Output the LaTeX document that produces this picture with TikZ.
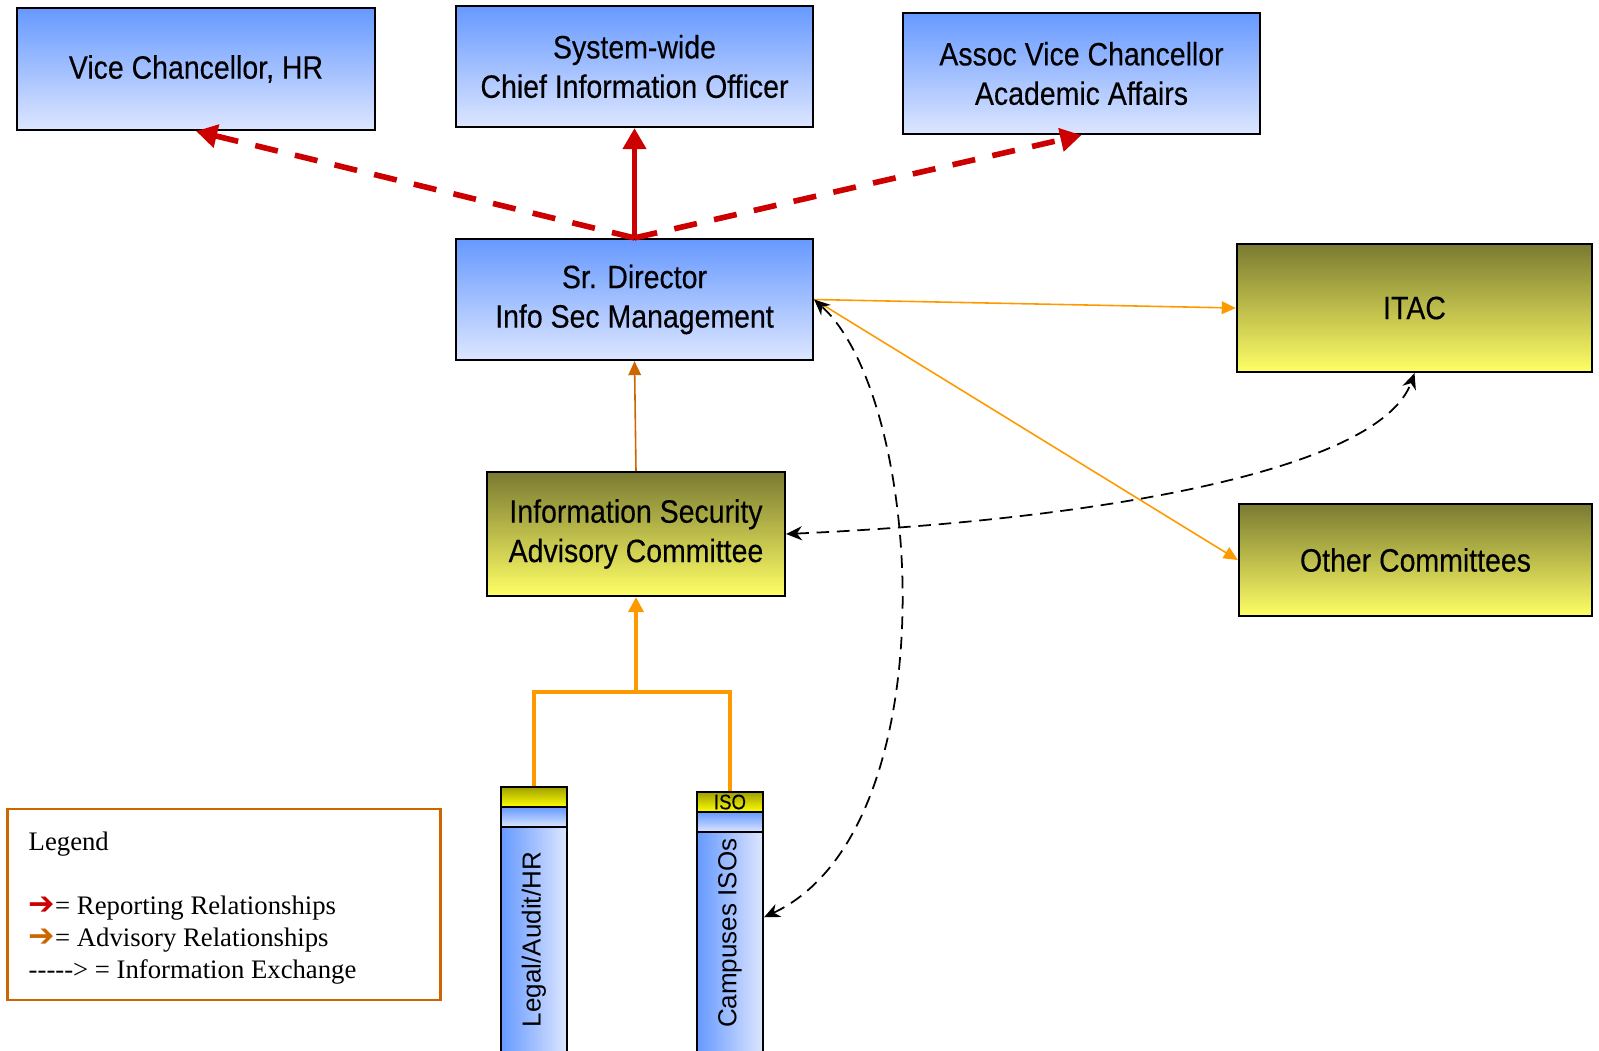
\documentclass[tikz,border=0pt]{standalone}
\usepackage{fontspec}
\usepackage{graphicx}
\setmainfont{Liberation Serif}
\newfontfamily\narrowfont[FakeStretch=0.88, FakeBold=0.3]{Liberation Sans}
\newfontfamily\plainsans{Liberation Sans}
\newfontfamily\symfont{DejaVu Sans}
\usetikzlibrary{arrows.meta}
\definecolor{boxblue}{RGB}{102,153,255}
\definecolor{paleblue}{RGB}{221,230,255}
\definecolor{boxolive}{RGB}{122,122,50}
\definecolor{paleyellow}{RGB}{255,255,102}
\definecolor{colyellow}{RGB}{160,160,0}
\definecolor{repred}{RGB}{204,0,0}
\definecolor{advorange}{RGB}{255,153,0}
\definecolor{advbrown}{RGB}{204,102,0}
\tikzstyle{bluebox}=[draw=black, line width=0.6pt, top color=boxblue, bottom color=paleblue, inner sep=0pt, align=center, font=\narrowfont\fontsize{9.2}{11.2}\selectfont]
\tikzstyle{yellowbox}=[bluebox, top color=boxolive, bottom color=paleyellow]
\tikzstyle{colbody}=[draw=black, line width=0.6pt, left color=boxblue, right color=paleblue, inner sep=0pt, minimum width=0.66cm, font=\plainsans\fontsize{7.4}{8}\selectfont]
\tikzstyle{colband}=[draw=black, line width=0.6pt, top color=boxblue, bottom color=paleblue, inner sep=0pt, minimum width=0.66cm, minimum height=0.2cm]
\tikzstyle{coltop}=[draw=black, line width=0.6pt, top color=colyellow, bottom color=yellow, inner sep=0pt, minimum width=0.66cm, minimum height=0.2cm, font=\narrowfont\fontsize{6}{6}\selectfont]
\tikzstyle{legendbox}=[draw=advbrown, line width=0.8pt, inner sep=0pt]
\tikzstyle{report}=[draw=repred, line width=1.6pt, -{Triangle[length=6pt,width=6.5pt]}]
\tikzstyle{reportdash}=[report, dash pattern=on 6.6pt off 5pt]
\tikzstyle{advise}=[draw=advorange, line width=0.45pt, -{Triangle[length=4pt,width=3.6pt]}]
\tikzstyle{adviselight}=[draw=advbrown, line width=0.45pt, -{Triangle[length=4pt,width=3.6pt]}]
\tikzstyle{advisethick}=[draw=advorange, line width=1.1pt]
\tikzstyle{infox}=[draw=black, line width=0.5pt, dash pattern=on 3.6pt off 2.2pt, {Stealth[length=4.5pt,width=4pt]}-{Stealth[length=4.5pt,width=4pt]}]

\begin{document}
\begin{tikzpicture}[x=0.01cm, y=-0.01cm]
    \useasboundingbox (0,0) rectangle (1599,1050);
    \node[bluebox, minimum width=3.58cm, minimum height=1.22cm] (vchr) at (196,69) {Vice Chancellor, HR};
    \node[bluebox, minimum width=3.57cm, minimum height=1.21cm] (cio) at (634.5,66.5) {System-wide\\Chief Information Officer};
    \node[bluebox, minimum width=3.57cm, minimum height=1.21cm] (avc) at (1081.5,73.5) {Assoc Vice Chancellor\\Academic Affairs};
    \node[bluebox, minimum width=3.57cm, minimum height=1.21cm] (srdir) at (634.5,299.5) {Sr. Director\\Info Sec Management};
    \node[yellowbox, minimum width=3.55cm, minimum height=1.28cm] (itac) at (1414.5,308) {ITAC};
    \node[yellowbox, minimum width=2.98cm, minimum height=1.24cm] (isac) at (636,534) {Information Security\\Advisory Committee};
    \node[yellowbox, minimum width=3.53cm, minimum height=1.12cm] (other) at (1415.5,560) {Other Committees};

    \node[colbody, minimum height=2.25cm] (legal) at (534,939.5) {\rotatebox{90}{Legal/Audit/HR}};
    \node[colband] (legalband) at (534,817) {};
    \node[coltop] (legaltop) at (534,797) {};
    \node[colbody, minimum height=2.2cm] (campus) at (730,942) {\rotatebox{90}{\hspace{5pt}Campuses ISOs}};
    \node[colband] (campusband) at (730,822) {};
    \node[coltop] (campustop) at (730,802) {ISO};

    \node[legendbox, minimum width=4.32cm, minimum height=1.91cm] (legend) at (224,904.5) {};
    \node[anchor=north west, align=left, inner sep=0pt, font=\fontsize{7.6}{9.1}\selectfont] (legendtxt) at (28,831) {Legend\\[9.1pt]
      {\color{repred}\symfont\bfseries\fontsize{9}{9.1}\selectfont ➔}= Reporting Relationships\\
      {\color{advbrown}\symfont\bfseries\fontsize{9}{9.1}\selectfont ➔}= Advisory Relationships\\
      -{}-{}-{}-{}-\textgreater{} = Information Exchange};

    \draw[report] (srdir.north) -- (cio.south);
    \foreach \to in {vchr, avc}
      \draw[reportdash] (srdir.north) -- (\to.south);
    \foreach \to in {itac, other}
      \draw[advise] (srdir.east) -- (\to.west);
    \draw[adviselight] (isac.north) -- (srdir.south);
    \coordinate (join) at (636,692);
    \draw[advisethick] (legaltop.north) |- (join) -| (campustop.north);
    \draw[advisethick, -{Triangle[length=4.3pt,width=4.3pt]}] (join) -- (isac.south);
    \draw[infox] (campus.36) .. controls (950,830) and (925,400) .. (srdir.east);
    \draw[infox] (isac.east) .. controls (1100,520) and (1380,470) .. (itac.south);
\end{tikzpicture}
\end{document}
